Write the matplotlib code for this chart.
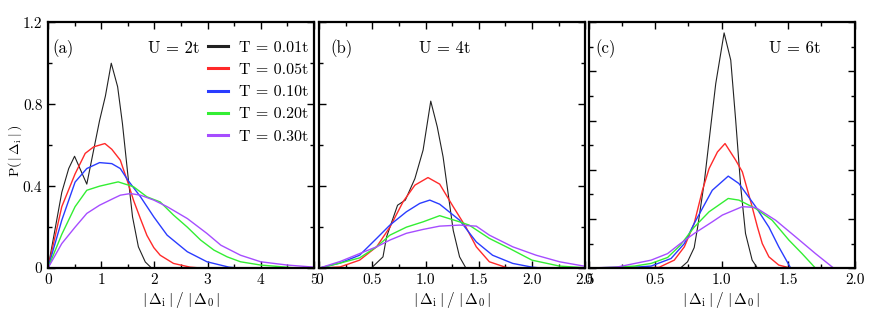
import numpy as np
import matplotlib
matplotlib.use("Agg")
import matplotlib.pyplot as plt

plt.rcParams['font.family'] = ['cmr10', 'DejaVu Serif']
plt.rcParams['mathtext.fontset'] = 'cm'
plt.rcParams['axes.formatter.use_mathtext'] = True

# temperatures / colours of the five curves
temps = ["0.01t", "0.05t", "0.10t", "0.20t", "0.30t"]
colors = ["#222222", "#ff2a2a", "#2a3cff", "#33ee33", "#a64dff"]

# ---- panel (a), U = 2t ----
a_x_001 = [0, 0.26, 0.39, 0.5, 0.73, 0.97, 1.08, 1.19, 1.31, 1.40, 1.50, 1.59, 1.70, 1.83, 1.95]
a_y_001 = [0, 0.37, 0.486, 0.546, 0.41, 0.72, 0.84, 1.0, 0.885, 0.706, 0.46, 0.25, 0.104, 0.03, 0]
a_x_005 = [0, 0.26, 0.51, 0.70, 0.86, 1.07, 1.20, 1.36, 1.50, 1.61, 1.74, 1.86, 1.99, 2.11, 2.36, 2.67, 2.9]
a_y_005 = [0, 0.30, 0.46, 0.56, 0.592, 0.608, 0.58, 0.527, 0.42, 0.33, 0.24, 0.16, 0.10, 0.063, 0.023, 0.005, 0]
a_x_010 = [0, 0.26, 0.51, 0.73, 0.97, 1.20, 1.36, 1.50, 1.74, 1.99, 2.24, 2.62, 2.99, 3.4, 3.6]
a_y_010 = [0, 0.234, 0.42, 0.486, 0.515, 0.51, 0.486, 0.43, 0.348, 0.25, 0.161, 0.08, 0.031, 0.005, 0]
a_x_020 = [0, 0.26, 0.51, 0.73, 0.97, 1.32, 1.61, 1.86, 2.11, 2.36, 2.62, 2.87, 3.12, 3.37, 3.62, 4.0, 4.38, 4.7]
a_y_020 = [0, 0.165, 0.30, 0.38, 0.40, 0.421, 0.397, 0.348, 0.323, 0.259, 0.20, 0.137, 0.088, 0.055, 0.031, 0.015, 0.007, 0]
a_x_030 = [0, 0.26, 0.51, 0.73, 0.97, 1.23, 1.36, 1.55, 1.74, 1.99, 2.24, 2.62, 2.99, 3.25, 3.62, 4.0, 4.5, 5.0]
a_y_030 = [0, 0.12, 0.2, 0.267, 0.307, 0.34, 0.356, 0.364, 0.356, 0.332, 0.30, 0.242, 0.169, 0.112, 0.063, 0.031, 0.015, 0.005]

# ---- panel (b), U = 4t ----
b_x_001 = [0.49, 0.60, 0.634, 0.737, 0.81, 0.90, 0.977, 1.049, 1.11, 1.165, 1.195, 1.26, 1.32, 1.38]
b_y_001 = [0, 0.055, 0.153, 0.307, 0.332, 0.437, 0.576, 0.815, 0.69, 0.543, 0.43, 0.185, 0.055, 0]
b_x_005 = [0, 0.197, 0.38, 0.54, 0.665, 0.79, 0.90, 1.023, 1.133, 1.26, 1.38, 1.477, 1.6, 1.76, 1.85]
b_y_005 = [0, 0.006, 0.039, 0.104, 0.20, 0.325, 0.405, 0.442, 0.41, 0.30, 0.2, 0.104, 0.031, 0.003, 0]
b_x_010 = [0, 0.197, 0.38, 0.54, 0.665, 0.82, 0.946, 1.04, 1.133, 1.32, 1.477, 1.63, 1.82, 2.0, 2.1]
b_y_010 = [0, 0.025, 0.063, 0.145, 0.21, 0.275, 0.316, 0.332, 0.312, 0.234, 0.128, 0.063, 0.023, 0.005, 0]
b_x_020 = [0, 0.2, 0.38, 0.54, 0.665, 0.82, 0.977, 1.133, 1.32, 1.41, 1.6, 1.79, 2.0, 2.26, 2.5]
b_y_020 = [0, 0.025, 0.05, 0.104, 0.161, 0.2, 0.226, 0.256, 0.226, 0.21, 0.145, 0.096, 0.039, 0.01, 0.002]
b_x_030 = [0, 0.2, 0.38, 0.54, 0.665, 0.82, 0.977, 1.133, 1.32, 1.477, 1.6, 1.82, 2.04, 2.26, 2.5]
b_y_030 = [0, 0.033, 0.071, 0.104, 0.137, 0.17, 0.189, 0.205, 0.21, 0.205, 0.161, 0.104, 0.063, 0.031, 0.009]

# ---- panel (c), U = 6t ----
c_x_001 = [0.69, 0.744, 0.794, 0.82, 0.87, 0.92, 0.956, 1.019, 1.069, 1.106, 1.144, 1.18, 1.23, 1.27]
c_y_001 = [0, 0.031, 0.10, 0.2, 0.42, 0.70, 0.90, 1.148, 1.015, 0.722, 0.397, 0.169, 0.039, 0]
c_x_005 = [0.3, 0.53, 0.644, 0.72, 0.794, 0.856, 0.906, 0.969, 1.026, 1.106, 1.156, 1.22, 1.27, 1.306, 1.356, 1.43, 1.52]
c_y_005 = [0, 0.004, 0.039, 0.104, 0.218, 0.38, 0.486, 0.567, 0.608, 0.527, 0.47, 0.323, 0.2, 0.12, 0.055, 0.015, 0]
c_x_010 = [0, 0.18, 0.38, 0.47, 0.62, 0.72, 0.794, 0.93, 1.05, 1.13, 1.256, 1.356, 1.43, 1.52]
c_y_010 = [0, 0.001, 0.006, 0.01, 0.047, 0.12, 0.218, 0.38, 0.449, 0.413, 0.30, 0.2, 0.104, 0]
c_x_020 = [0, 0.18, 0.345, 0.47, 0.594, 0.69, 0.794, 0.906, 1.05, 1.13, 1.256, 1.38, 1.506, 1.605, 1.706]
c_y_020 = [0, 0.004, 0.01, 0.023, 0.052, 0.112, 0.2, 0.275, 0.34, 0.332, 0.291, 0.234, 0.137, 0.071, 0]
c_x_030 = [0, 0.22, 0.47, 0.594, 0.69, 0.794, 0.93, 1.006, 1.156, 1.256, 1.406, 1.556, 1.706, 1.843]
c_y_030 = [0, 0.006, 0.039, 0.071, 0.12, 0.169, 0.226, 0.259, 0.30, 0.296, 0.234, 0.153, 0.071, 0]

panels = [
    ("(a)", "U = 2t", [(a_x_001, a_y_001), (a_x_005, a_y_005), (a_x_010, a_y_010),
                       (a_x_020, a_y_020), (a_x_030, a_y_030)]),
    ("(b)", "U = 4t", [(b_x_001, b_y_001), (b_x_005, b_y_005), (b_x_010, b_y_010),
                       (b_x_020, b_y_020), (b_x_030, b_y_030)]),
    ("(c)", "U = 6t", [(c_x_001, c_y_001), (c_x_005, c_y_005), (c_x_010, c_y_010),
                       (c_x_020, c_y_020), (c_x_030, c_y_030)]),
]
x_limits = [5.0, 2.5, 2.0]
x_tick_labels = [["0", "1", "2", "3", "4", "5"],
                 ["0", "0.5", "1.0", "1.5", "2.0", "2.5"],
                 ["0", "0.5", "1.0", "1.5", "2.0"]]
y_tick_labels = ["0", "0.4", "0.8", "1.2"]

fig = plt.figure(figsize=(8.72, 3.27), dpi=100)
lefts = [0.055, 0.366, 0.675]
axes = [fig.add_axes([l, 0.180, 0.305, 0.752]) for l in lefts]

xlabel = r"$|\,\Delta_{\rm i}\,|\;/\;|\,\Delta_0\,|$"

for i, (ax, (tag, utext, curves)) in enumerate(zip(axes, panels)):
    for (xs, ys), col, t in zip(curves, colors, temps):
        lw = 0.8 if col == "#222222" else 1.0
        ax.plot(xs, ys, color=col, lw=lw, label="T = " + t)

    step = 1.0 if i == 0 else 0.5
    n_major = len(x_tick_labels[i])
    ax.set_xticks(np.arange(n_major) * step, labels=x_tick_labels[i])
    ax.set_xticks(np.arange(2 * n_major - 1) * step / 2, minor=True)
    if i == 2:
        ax.set_yticks(np.linspace(0, 1.2, 6), labels=[])
        ax.set_yticks(np.linspace(0, 1.2, 11), minor=True)
    else:
        ax.set_yticks(np.arange(4) * 0.4, labels=y_tick_labels if i == 0 else [])
        ax.set_yticks(np.arange(7) * 0.2, minor=True)
    ax.set_xlim(0, x_limits[i])
    ax.set_ylim(0, 1.2)

    ax.tick_params(which="both", direction="in", top=True, right=True, labelsize=11, pad=4)
    ax.tick_params(which="major", length=5, width=1)
    ax.tick_params(which="minor", length=3, width=1)
    for s in ax.spines.values():
        s.set_linewidth(1.6)

    ax.set_xlabel(xlabel, fontsize=11, labelpad=2)

    ax.text([0.015, 0.044, 0.026][i], 0.894, tag, transform=ax.transAxes,
            fontsize=12, va="center", ha="left")
    ax.text([0.377, 0.375, 0.678][i], 0.894, utext, transform=ax.transAxes,
            fontsize=12, va="center", ha="left")

leg = axes[0].legend(loc="upper left", bbox_to_anchor=(0.60, 0.925), frameon=False,
                     fontsize=11.5, handlelength=1.3, handletextpad=0.65,
                     labelspacing=0.5, borderpad=0, borderaxespad=0)
for h in leg.get_lines():
    h.set_linewidth(2.2)

fig.text(0.017, 0.54, r"$\mathrm{P(}\,|\,\Delta_{\rm i}\,|\,\mathrm{)}$", rotation=90,
         fontsize=10, ha="center", va="center")

fig.savefig("out.png", dpi=100)
